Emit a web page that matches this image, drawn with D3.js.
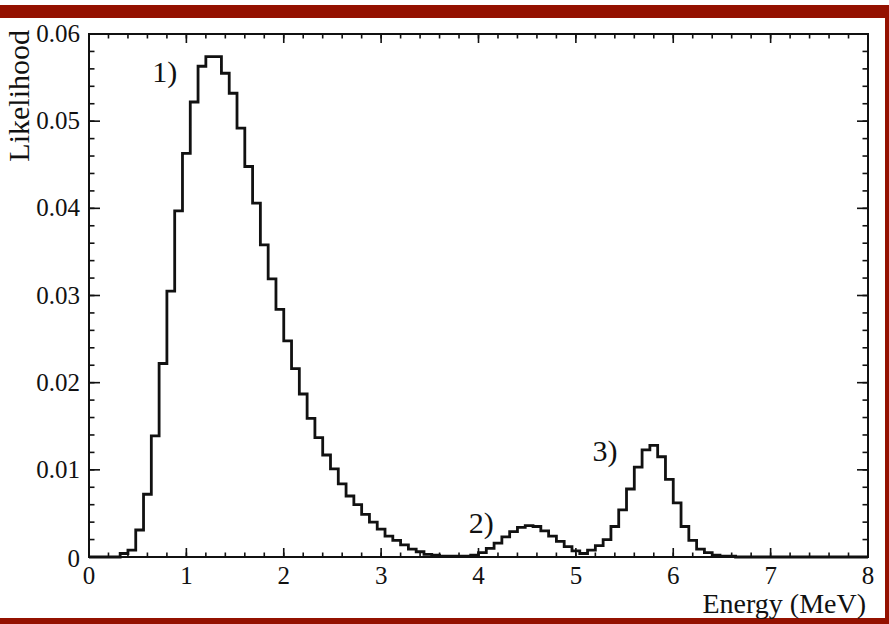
<!DOCTYPE html>
<html>
<head>
<meta charset="utf-8">
<script src="https://cdn.jsdelivr.net/npm/d3@7"></script>
<style>
  html, body { margin: 0; padding: 0; background: #fff; }
  svg text { font-family: "Liberation Serif", "DejaVu Serif", serif; fill: #111; }
</style>
</head>
<body>
<script>
// histogram, 100 bins of 0.08 MeV over 0..8 MeV
var binWidth = 0.08;
var likelihood = [
  0, 0, 0, 0, 0.0004, 0.0008, 0.0031, 0.0072, 0.0139, 0.0222,
  0.0305, 0.0397, 0.0463, 0.0522, 0.0563, 0.0574, 0.0574, 0.0555, 0.0532, 0.0492,
  0.0448, 0.0406, 0.0358, 0.0319, 0.0284, 0.0248, 0.0216, 0.0187, 0.0159, 0.0137,
  0.0117, 0.0101, 0.0084, 0.0070, 0.0060, 0.0049, 0.0040, 0.0032, 0.0024, 0.0019,
  0.0014, 0.0009, 0.0006, 0.0003, 0.0002, 0.0001, 0.0001, 0.0001, 0.0001, 0.0002,
  0.0005, 0.0010, 0.0016, 0.0023, 0.0029, 0.0034, 0.0036, 0.0035, 0.0030, 0.0024,
  0.0018, 0.0012, 0.0007, 0.0004, 0.0008, 0.0013, 0.0020, 0.0035, 0.0054, 0.0078,
  0.0103, 0.0123, 0.0128, 0.0115, 0.0089, 0.0062, 0.0035, 0.0019, 0.0009, 0.0005,
  0.0002, 0.0001, 0.0001, 0, 0, 0, 0, 0, 0, 0,
  0, 0, 0, 0, 0, 0, 0, 0, 0, 0
];
var xDomain = [0, 8];
var yDomain = [0, 0.06];
var peakLabels = ["1)", "2)", "3)"];
var peakLabelPos = [[0.65, 0.0545], [3.9, 0.0027], [5.17, 0.0110]];  // [MeV, likelihood] of label start
var xTitle = "Energy (MeV)";
var yTitle = "Likelihood";

var W = 889, H = 624;
var svg = d3.select("body").append("svg").attr("width", W).attr("height", H);

// red bands of the slide
svg.append("rect").attr("x", 0).attr("y", 5).attr("width", W).attr("height", 13).attr("fill", "#941100");
svg.append("rect").attr("x", 0).attr("y", 618).attr("width", W).attr("height", 6).attr("fill", "#941100");
svg.append("rect").attr("x", 885).attr("y", 5).attr("width", 4).attr("height", 619).attr("fill", "#941100");

var x = d3.scaleLinear().domain(xDomain).range([89, 868]);
var y = d3.scaleLinear().domain(yDomain).range([557, 34]);

var g = svg.append("g");

// histogram outline
var pts = likelihood.map(function (v, i) { return [i * binWidth, v]; });
pts.push([xDomain[1], likelihood[likelihood.length - 1]]);
var line = d3.line()
  .x(function (d) { return x(d[0]); })
  .y(function (d) { return y(d[1]); })
  .curve(d3.curveStepAfter);
g.append("path").datum(pts)
  .attr("d", line)
  .attr("fill", "none")
  .attr("stroke", "#111")
  .attr("stroke-width", 2.8)
  .attr("stroke-linejoin", "miter");

// frame
g.append("rect")
  .attr("x", x(xDomain[0])).attr("y", y(yDomain[1]))
  .attr("width", x(xDomain[1]) - x(xDomain[0]))
  .attr("height", y(yDomain[0]) - y(yDomain[1]))
  .attr("fill", "none").attr("stroke", "#111").attr("stroke-width", 2);

// ticks on all four sides, pointing inward
var ticksG = g.append("g").attr("stroke", "#111").attr("stroke-width", 1.6);
function xTicks(vals, len) {
  vals.forEach(function (v) {
    ticksG.append("line").attr("x1", x(v)).attr("x2", x(v)).attr("y1", y(0)).attr("y2", y(0) - len);
    ticksG.append("line").attr("x1", x(v)).attr("x2", x(v)).attr("y1", y(yDomain[1])).attr("y2", y(yDomain[1]) + len);
  });
}
function yTicks(vals, len) {
  vals.forEach(function (v) {
    ticksG.append("line").attr("y1", y(v)).attr("y2", y(v)).attr("x1", x(0)).attr("x2", x(0) + len);
    ticksG.append("line").attr("y1", y(v)).attr("y2", y(v)).attr("x1", x(xDomain[1])).attr("x2", x(xDomain[1]) - len);
  });
}
xTicks(x.ticks(8), 9);
xTicks(x.ticks(40), 4.5);
yTicks(y.ticks(6), 11);
yTicks(y.ticks(30), 5.5);

// tick labels
g.selectAll(".xl").data(x.ticks(8)).enter().append("text")
  .attr("x", function (d) { return x(d); })
  .attr("y", 584)
  .attr("text-anchor", "middle")
  .attr("font-size", 25)
  .text(function (d) { return d; });

var yFmt = d3.format(".2f");
g.selectAll(".yl").data(y.ticks(6)).enter().append("text")
  .attr("x", 80)
  .attr("y", function (d) { return d === 0 ? y(d) + 10 : y(d) + 8; })
  .attr("text-anchor", "end")
  .attr("font-size", 25)
  .text(function (d) { return d === 0 ? "0" : yFmt(d); });

// axis titles
g.append("text")
  .attr("x", 866).attr("y", 613)
  .attr("text-anchor", "end")
  .attr("font-size", 28)
  .text(xTitle);
g.append("text")
  .attr("transform", "translate(29,30) rotate(-90)")
  .attr("text-anchor", "end")
  .attr("font-size", 30)
  .text(yTitle);

// peak annotations
g.selectAll(".pk").data(peakLabels).enter().append("text")
  .attr("x", function (d, i) { return x(peakLabelPos[i][0]); })
  .attr("y", function (d, i) { return y(peakLabelPos[i][1]); })
  .attr("font-size", 30)
  .text(function (d) { return d; });
</script>
</body>
</html>
